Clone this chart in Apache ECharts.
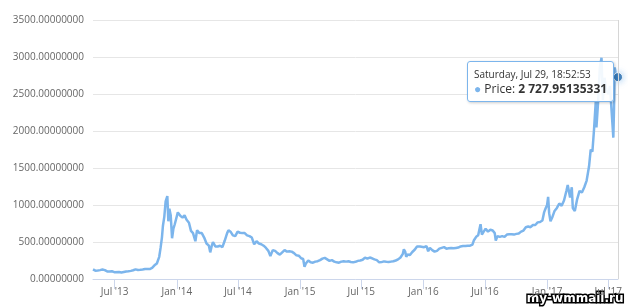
<!DOCTYPE html>
<html>
<head>
<meta charset="utf-8">
<script src="https://cdn.jsdelivr.net/npm/echarts@6/dist/echarts.min.js"></script>
<style>
html, body { margin: 0; padding: 0; background: #fff; }
#chart { width: 628px; height: 308px; }
</style>
</head>
<body>
<div id="chart"></div>
<script>
// price points, [date, price]
var prices2013 = [
  ['2013-04-28', 130], ['2013-05-05', 112], ['2013-05-12', 115], ['2013-05-19', 120], ['2013-05-26', 128],
  ['2013-06-02', 120], ['2013-06-09', 102], ['2013-06-16', 100], ['2013-06-23', 105], ['2013-06-30', 92],
  ['2013-07-05', 70], ['2013-07-14', 94], ['2013-07-21', 88], ['2013-07-28', 95], ['2013-08-04', 102],
  ['2013-08-11', 104], ['2013-08-18', 110], ['2013-08-25', 118], ['2013-09-01', 130], ['2013-09-08', 122],
  ['2013-09-15', 124], ['2013-09-22', 128], ['2013-09-29', 134], ['2013-10-02', 118], ['2013-10-13', 135],
  ['2013-10-20', 150], ['2013-10-27', 185], ['2013-11-03', 210], ['2013-11-10', 300], ['2013-11-14', 420],
  ['2013-11-18', 560], ['2013-11-21', 720], ['2013-11-25', 840], ['2013-11-29', 1050], ['2013-12-04', 1120],
  ['2013-12-07', 780], ['2013-12-10', 950], ['2013-12-14', 860], ['2013-12-18', 550], ['2013-12-22', 680],
  ['2013-12-26', 740], ['2013-12-30', 760]
]
var prices2014 = [
  ['2014-01-04', 900], ['2014-01-08', 920], ['2014-01-12', 850], ['2014-01-18', 830], ['2014-01-24', 860],
  ['2014-01-30', 800], ['2014-02-06', 760], ['2014-02-12', 650], ['2014-02-18', 620], ['2014-02-25', 510],
  ['2014-03-02', 660], ['2014-03-09', 620], ['2014-03-16', 620], ['2014-03-23', 560], ['2014-03-30', 480],
  ['2014-04-06', 450], ['2014-04-10', 360], ['2014-04-14', 440], ['2014-04-18', 500], ['2014-04-25', 440],
  ['2014-05-02', 440], ['2014-05-09', 450], ['2014-05-16', 430], ['2014-05-23', 520], ['2014-05-30', 620],
  ['2014-06-03', 660], ['2014-06-09', 640], ['2014-06-16', 590], ['2014-06-23', 580], ['2014-06-30', 640],
  ['2014-07-07', 625], ['2014-07-14', 620], ['2014-07-21', 620], ['2014-07-28', 590], ['2014-08-04', 580],
  ['2014-08-11', 560], ['2014-08-18', 470], ['2014-08-25', 510], ['2014-09-01', 480], ['2014-09-08', 470],
  ['2014-09-15', 450], ['2014-09-22', 420], ['2014-09-29', 380], ['2014-10-05', 310], ['2014-10-12', 390],
  ['2014-10-19', 380], ['2014-10-26', 350], ['2014-11-02', 330], ['2014-11-09', 360], ['2014-11-16', 390],
  ['2014-11-23', 370], ['2014-11-30', 375], ['2014-12-07', 370], ['2014-12-14', 350], ['2014-12-21', 320],
  ['2014-12-28', 315]
]
var prices2015 = [
  ['2015-01-04', 280], ['2015-01-10', 270], ['2015-01-14', 165], ['2015-01-18', 210], ['2015-01-25', 250],
  ['2015-02-01', 225], ['2015-02-08', 220], ['2015-02-15', 235], ['2015-02-22', 240], ['2015-03-01', 255],
  ['2015-03-08', 275], ['2015-03-15', 285], ['2015-03-22', 265], ['2015-03-29', 245], ['2015-04-05', 255],
  ['2015-04-12', 235], ['2015-04-19', 225], ['2015-04-26', 220], ['2015-05-03', 235], ['2015-05-10', 240],
  ['2015-05-17', 235], ['2015-05-24', 240], ['2015-05-31', 230], ['2015-06-07', 225], ['2015-06-14', 232],
  ['2015-06-21', 245], ['2015-06-28', 250], ['2015-07-05', 260], ['2015-07-12', 290], ['2015-07-19', 275],
  ['2015-07-26', 290], ['2015-08-02', 280], ['2015-08-09', 265], ['2015-08-16', 255], ['2015-08-23', 225],
  ['2015-08-30', 228], ['2015-09-06', 238], ['2015-09-13', 232], ['2015-09-20', 230], ['2015-09-27', 235],
  ['2015-10-04', 240], ['2015-10-11', 250], ['2015-10-18', 265], ['2015-10-25', 290], ['2015-11-01', 340],
  ['2015-11-04', 400], ['2015-11-08', 370], ['2015-11-11', 300], ['2015-11-15', 330], ['2015-11-22', 325],
  ['2015-11-29', 365], ['2015-12-06', 395], ['2015-12-13', 440], ['2015-12-17', 455], ['2015-12-22', 440],
  ['2015-12-27', 420]
]
var prices2016 = [
  ['2016-01-03', 430], ['2016-01-10', 445], ['2016-01-15', 375], ['2016-01-20', 420], ['2016-01-27', 390],
  ['2016-02-03', 370], ['2016-02-10', 380], ['2016-02-17', 410], ['2016-02-24', 420], ['2016-03-02', 430],
  ['2016-03-09', 410], ['2016-03-16', 415], ['2016-03-23', 420], ['2016-03-30', 415], ['2016-04-06', 420],
  ['2016-04-13', 425], ['2016-04-20', 440], ['2016-04-27', 445], ['2016-05-04', 445], ['2016-05-11', 450],
  ['2016-05-18', 450], ['2016-05-25', 465], ['2016-05-29', 520], ['2016-06-05', 570], ['2016-06-11', 590],
  ['2016-06-16', 700], ['2016-06-18', 740], ['2016-06-22', 600], ['2016-06-26', 630], ['2016-07-03', 680],
  ['2016-07-10', 640], ['2016-07-17', 665], ['2016-07-24', 655], ['2016-07-30', 620], ['2016-08-02', 520],
  ['2016-08-07', 580], ['2016-08-14', 570], ['2016-08-21', 580], ['2016-08-28', 570], ['2016-09-04', 600],
  ['2016-09-11', 605], ['2016-09-18', 605], ['2016-09-25', 600], ['2016-10-02', 610], ['2016-10-09', 615],
  ['2016-10-16', 640], ['2016-10-23', 655], ['2016-10-30', 700], ['2016-11-06', 710], ['2016-11-13', 700],
  ['2016-11-20', 730], ['2016-11-27', 730], ['2016-12-04', 765], ['2016-12-11', 770], ['2016-12-18', 790],
  ['2016-12-23', 900], ['2016-12-28', 960]
]
var prices2017 = [
  ['2017-01-01', 1000], ['2017-01-04', 1110], ['2017-01-07', 890], ['2017-01-11', 780], ['2017-01-16', 830],
  ['2017-01-23', 920], ['2017-01-30', 960], ['2017-02-06', 1020], ['2017-02-13', 990], ['2017-02-20', 1060],
  ['2017-02-27', 1190], ['2017-03-03', 1270], ['2017-03-10', 1100], ['2017-03-15', 1240], ['2017-03-18', 960],
  ['2017-03-24', 920], ['2017-03-31', 1080], ['2017-04-07', 1190], ['2017-04-14', 1170], ['2017-04-21', 1240],
  ['2017-04-28', 1330], ['2017-05-05', 1520], ['2017-05-10', 1750], ['2017-05-15', 1720], ['2017-05-20', 2030],
  ['2017-05-25', 2400], ['2017-05-27', 2050], ['2017-06-01', 2400], ['2017-06-06', 2860], ['2017-06-11', 2990],
  ['2017-06-15', 2420], ['2017-06-20', 2720], ['2017-06-25', 2550], ['2017-06-29', 2560], ['2017-07-02', 2500],
  ['2017-07-06', 2610], ['2017-07-10', 2330], ['2017-07-13', 2350], ['2017-07-16', 1910], ['2017-07-18', 2300],
  ['2017-07-20', 2860], ['2017-07-24', 2750], ['2017-07-27', 2680], ['2017-07-29 18:52:53', 2727.95135331]
]

var tickDates = ['2013-07-01', '2014-01-01', '2014-07-01', '2015-01-01', '2015-07-01',
  '2016-01-01', '2016-07-01', '2017-01-01', '2017-07-01']
var tickLabels = ["Jul '13", "Jan '14", "Jul '14", "Jan '15", "Jul '15",
  "Jan '16", "Jul '16", "Jan '17", "Jul '17"]

function toTime(s) {
  return echarts.time.parse(s).getTime()
}

var priceData = prices2013.concat(prices2014, prices2015, prices2016, prices2017).map(function(p) {
  return [toTime(p[0]), p[1]]
})
var lastPoint = priceData[priceData.length - 1]
var tickTimes = tickDates.map(toTime)

var DAYS = ['Sunday', 'Monday', 'Tuesday', 'Wednesday', 'Thursday', 'Friday', 'Saturday']
var MONTHS = ['Jan', 'Feb', 'Mar', 'Apr', 'May', 'Jun', 'Jul', 'Aug', 'Sep', 'Oct', 'Nov', 'Dec']
function pad(n) { return n < 10 ? '0' + n : '' + n }
function fmtPrice(v) {
  var parts = v.toFixed(8).split('.')
  return parts[0].replace(/\B(?=(\d{3})+(?!\d))/g, ' ') + '.' + parts[1]
}

var chart = echarts.init(document.getElementById('chart'))
chart.setOption({
  animation: false,
  textStyle: { fontFamily: 'Open Sans' },
  grid: { left: 93, right: 10, top: 20, bottom: 29 },
  tooltip: {
    trigger: 'axis',
    alwaysShowContent: true,
    position: [467, 61],
    backgroundColor: 'rgba(255,255,255,0.9)',
    borderColor: '#7cb5ec',
    borderWidth: 1,
    padding: [5, 6, 4, 6],
    extraCssText: 'border-radius:3px;box-shadow:1px 1px 3px rgba(0,0,0,0.2);',
    axisPointer: {
      type: 'line',
      label: { show: false },
      lineStyle: { color: '#d6d6d6', width: 1, type: 'solid' }
    },
    formatter: function(params) {
      var p = params[0]
      var d = new Date(p.value[0])
      var head = DAYS[d.getDay()] + ', ' + MONTHS[d.getMonth()] + ' ' + d.getDate() + ', ' +
        pad(d.getHours()) + ':' + pad(d.getMinutes()) + ':' + pad(d.getSeconds())
      return '<div style="font-family:Open Sans;font-size:10px;color:#333;line-height:14px">' + head + '</div>' +
        '<div style="font-family:Open Sans;font-size:12px;color:#333;line-height:16px">' +
        '<span style="color:#7cb5ec">\u25CF</span> Price: <b>' + fmtPrice(p.value[1]) + '</b></div>'
    }
  },
  xAxis: {
    type: 'value',
    min: priceData[0][0],
    max: lastPoint[0],
    axisLine: { lineStyle: { color: '#ccd6eb', width: 1 } },
    axisTick: { show: true, length: 10, customValues: tickTimes, lineStyle: { color: '#ccd6eb' } },
    splitLine: { show: false },
    axisLabel: {
      customValues: tickTimes,
      color: '#666',
      fontSize: 10,
      margin: 8,
      formatter: function(val) {
        var best = 0
        for (var i = 0; i < tickTimes.length; i++) {
          if (Math.abs(tickTimes[i] - val) < Math.abs(tickTimes[best] - val)) best = i
        }
        return tickLabels[best]
      }
    }
  },
  yAxis: {
    type: 'value',
    min: 0,
    max: 3500,
    interval: 500,
    axisLine: { show: false },
    axisTick: { show: false },
    splitLine: { lineStyle: { color: '#e6e6e6', width: 1 } },
    axisLabel: {
      color: '#666',
      fontSize: 10,
      margin: 9,
      formatter: function(v) { return v.toFixed(8) }
    }
  },
  series: [
    {
      name: 'Price',
      type: 'line',
      data: priceData,
      showSymbol: false,
      symbol: 'none',
      lineStyle: { color: '#7cb5ec', width: 2.5 },
      itemStyle: { color: '#7cb5ec' },
      emphasis: { disabled: true }
    },
    {
      type: 'scatter',
      data: [lastPoint],
      symbolSize: 9,
      z: 5,
      clip: false,
      silent: true,
      itemStyle: {
        color: '#1d64a6',
        borderColor: '#ffffff',
        borderWidth: 1,
        shadowBlur: 6,
        shadowColor: 'rgba(124,181,236,0.8)'
      },
      tooltip: { show: false }
    }
  ],
  graphic: [
    {
      type: 'text',
      right: 3,
      bottom: 2,
      style: {
        text: 'my-wmmail.ru',
        font: 'bold 12px DejaVu Sans',
        fill: '#ffffff',
        stroke: '#000000',
        lineWidth: 3
      }
    }
  ]
})

chart.dispatchAction({ type: 'showTip', seriesIndex: 0, dataIndex: priceData.length - 1 })
</script>
</body>
</html>
